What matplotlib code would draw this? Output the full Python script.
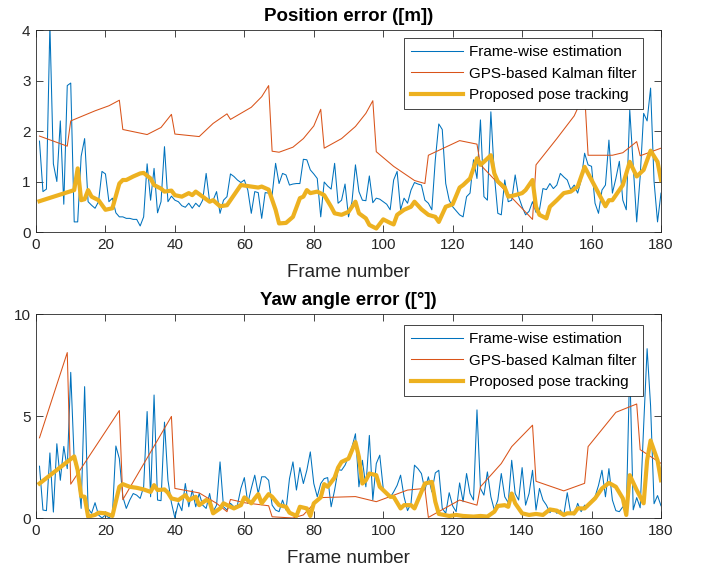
import numpy as np
import matplotlib
matplotlib.use('Agg')
import matplotlib.pyplot as plt

plt.rcParams['font.family'] = ['Liberation Sans', 'DejaVu Sans']

# ---- Position error ([m]) ----
pos_frame = [1.8, 0.8, 0.85, 4.1, 1.35, 1.0, 2.2, 0.55, 2.9, 2.95,
             0.2, 0.2, 1.5, 1.85, 0.6, 0.53, 0.47, 0.6, 1.2, 1.15,
             0.6, 0.67, 0.38, 0.3, 0.3, 0.27, 0.27, 0.25, 0.25, 0.12,
             0.3, 1.35, 0.63, 1.26, 0.38, 0.6, 1.69, 0.6, 0.71, 0.63,
             0.6, 0.52, 0.49, 0.57, 0.47, 0.57, 0.5, 0.63, 1.16, 0.6,
             0.63, 0.8, 0.37, 0.63, 0.7, 1.15, 1.1, 1.03, 0.98, 1.03,
             0.83, 0.37, 0.8, 0.78, 0.27, 0.78, 0.77, 0.73, 1.36, 0.96,
             1.16, 1.13, 0.93, 0.95, 0.96, 0.96, 1.44, 1.43, 1.23, 1.15,
             1.06, 0.3, 0.99, 0.91, 0.85, 1.36, 0.57, 0.63, 0.95, 0.3,
             0.6, 1.33, 0.8, 0.63, 0.62, 1.11, 0.58, 0.67, 0.65, 0.6,
             0.55, 0.44, 1.03, 1.2, 0.44, 0.67, 0.57, 0.83, 0.98, 0.95,
             0.93, 0.63, 0.57, 0.44, 1.43, 2.14, 2.03, 0.96, 0.63, 0.5,
             0.42, 0.34, 0.3, 0.7, 0.77, 1.43, 1.06, 2.22, 0.7, 0.63,
             2.38, 1.13, 0.37, 0.34, 1.03, 0.6, 0.63, 1.13, 0.7, 0.5,
             0.34, 0.41, 0.6, 0.39, 0.44, 0.86, 0.84, 0.96, 0.86, 0.93,
             1.16, 1.09, 1.03, 0.84, 0.93, 0.77, 1.03, 1.56, 1.33, 1.3,
             0.57, 0.37, 0.83, 0.93, 1.82, 0.77, 1.06, 1.4, 0.63, 0.44,
             2.42, 1.3, 0.2, 1.1, 2.35, 2.2, 2.85, 1.0, 0.2, 0.77]

pos_gps_x = [1, 9, 10, 17, 21, 24, 25, 32, 36, 39, 40, 47, 51, 55, 56, 62, 65, 67,
             68, 70, 74, 77, 80, 82, 83, 88, 92, 95, 97, 98, 103, 109, 112, 113,
             122, 127, 128, 143, 144, 150, 155, 158, 159, 166, 169, 173, 174, 180]
pos_gps_y = [1.9, 1.7, 2.2, 2.4, 2.5, 2.61, 2.03, 1.93, 2.07, 2.33, 1.94, 1.89, 2.15,
             2.34, 2.23, 2.47, 2.68, 2.9, 1.6, 1.58, 1.68, 1.85, 2.1, 2.43, 1.66,
             1.85, 2.09, 2.35, 2.6, 1.59, 1.3, 1.02, 0.96, 1.52, 1.81, 1.74, 1.33,
             0.25, 1.33, 1.85, 2.3, 2.75, 1.52, 1.52, 1.57, 1.79, 1.51, 1.66]

pos_prop_x = [1, 11, 12, 13, 14, 15, 16, 18, 20, 22, 24, 25, 26, 28, 30, 31, 33, 34,
              36, 37, 39, 40, 42, 44, 45, 46, 48, 50, 51, 53, 55, 57, 59, 61, 64, 65,
              67, 69, 70, 72, 74, 76, 77, 78, 79, 81, 83, 85, 86, 88, 90, 92, 93, 95,
              96, 98, 100, 102, 103, 104, 106, 108, 109, 111, 113, 115, 116, 118, 120,
              122, 123, 125, 126, 127, 128, 129, 131, 132, 133, 135, 136, 138, 140,
              141, 143, 144, 145, 147, 148, 150, 152, 154, 156, 158, 161, 164, 165,
              166, 169, 171, 173, 175, 177, 179, 180]
pos_prop_y = [0.61, 0.83, 1.26, 0.63, 0.65, 0.83, 0.7, 0.63, 0.44, 0.47, 0.96, 1.03,
              1.03, 1.1, 1.16, 1.17, 1.06, 0.93, 0.86, 0.8, 0.82, 0.73, 0.7, 0.77,
              0.73, 0.8, 0.7, 0.6, 0.63, 0.51, 0.53, 0.73, 0.93, 0.91, 0.88, 0.9,
              0.84, 0.44, 0.17, 0.18, 0.3, 0.67, 0.7, 0.83, 0.77, 0.8, 0.73, 0.5,
              0.37, 0.34, 0.4, 0.6, 0.37, 0.27, 0.14, 0.07, 0.25, 0.18, 0.15, 0.34,
              0.44, 0.5, 0.6, 0.45, 0.34, 0.3, 0.2, 0.5, 0.55, 0.88, 0.93, 1.06,
              1.26, 1.46, 1.33, 1.39, 1.52, 1.16, 1.0, 0.88, 0.7, 0.73, 0.77, 0.83,
              1.03, 0.5, 0.34, 0.27, 0.5, 0.63, 0.77, 0.8, 0.9, 1.29, 0.9, 0.51,
              0.63, 0.63, 0.93, 1.39, 1.1, 1.23, 1.61, 1.39, 1.03]

# ---- Yaw angle error ([deg]) ----
yaw_frame = [2.54, 0.39, 0.36, 3.19, 0.29, 3.64, 1.85, 3.51, 2.42, 7.14,
             2.83, 2.18, 0.47, 6.44, 0.47, 0.23, 0.75, 0.15, 0.0, 0.15,
             0.0, 0.15, 3.53, 2.91, 1.04, 0.47, 0.88, 1.2, 1.12, 0.96,
             1.53, 5.22, 1.04, 6.03, 0.88, 0.85, 4.7, 1.85, 0.75, 0.0,
             0.75, 0.36, 1.69, 0.55, 1.37, 0.55, 1.2, 0.63, 0.47, 1.2,
             0.31, 0.63, 2.75, 0.55, 0.39, 0.72, 0.55, 0.63, 1.45, 1.98,
             0.72, 1.45, 2.1, 1.2, 2.02, 2.02, 1.85, 0.63, 0.39, 0.31,
             0.88, 0.39, 1.93, 2.75, 1.37, 2.47, 1.69, 2.34, 3.24, 1.69,
             1.04, 1.69, 1.93, 1.98, 0.55, 1.37, 2.37, 2.34, 2.59, 3.0,
             3.48, 4.13, 1.53, 2.83, 1.53, 4.05, 0.88, 2.67, 3.08, 1.45,
             1.2, 1.0, 1.28, 1.6, 2.1, 1.04, 0.36, 0.72, 2.59, 2.42,
             2.18, 1.37, 2.02, 1.28, 2.21, 2.34, 0.47, 0.23, 1.24, 0.59,
             0.31, 1.72, 0.8, 2.18, 1.2, 0.88, 5.3, 1.45, 1.12, 2.26,
             1.04, 0.39, 0.88, 2.18, 1.04, 0.75, 2.83, 1.2, 0.88, 2.47,
             0.63, 1.2, 2.34, 0.39, 1.45, 0.88, 0.63, 0.26, 0.47, 0.23,
             0.39, 0.15, 1.24, 0.23, 0.15, 0.72, 0.31, 0.63, 0.55, 0.88,
             1.04, 1.6, 2.34, 1.04, 2.42, 0.88, 0.36, 0.31, 0.55, 0.23,
             7.5, 0.4, 1.0, 0.5, 4.5, 8.3, 5.5, 0.7, 1.1, 0.6]

yaw_gps_x = [1, 9, 10, 24, 25, 39, 40, 47, 52, 55, 56, 60, 67, 68, 74, 77, 80, 82,
             92, 98, 107, 112, 113, 122, 127, 128, 134, 137, 143, 144, 152, 158,
             159, 167, 173, 174, 180]
yaw_gps_y = [3.93, 8.11, 1.66, 5.27, 0.9, 4.98, 1.45, 1.23, 0.72, 0.31, 0.91, 0.75,
             0.6, 0.06, 0.0, 0.15, 0.7, 1.0, 1.05, 0.8, 1.37, 1.45, 0.03, 0.88,
             0.63, 1.53, 2.67, 3.5, 4.55, 1.8, 1.33, 1.7, 3.5, 5.18, 5.59, 3.35,
             2.68]

yaw_prop_x = [1, 11, 12, 13, 14, 15, 17, 18, 20, 22, 24, 25, 27, 29, 31, 33, 34, 35,
              37, 38, 39, 41, 43, 44, 46, 47, 49, 50, 51, 53, 54, 56, 57, 59, 60, 62,
              63, 64, 65, 67, 68, 70, 72, 73, 75, 76, 78, 79, 80, 82, 83, 84, 86, 87,
              88, 90, 92, 93, 94, 95, 96, 98, 99, 102, 103, 105, 106, 108, 109, 112,
              114, 115, 116, 119, 121, 123, 126, 128, 130, 132, 133, 135, 136, 137,
              138, 140, 142, 144, 146, 148, 150, 152, 153, 155, 156, 158, 161, 163,
              165, 167, 169, 170, 171, 173, 175, 176, 177, 179, 180]
yaw_prop_y = [1.69, 3.02, 2.34, 1.07, 1.04, 0.07, 0.15, 0.26, 0.23, 0.1, 1.53, 1.66,
              1.53, 1.48, 1.4, 1.28, 1.61, 1.37, 1.4, 1.24, 0.96, 0.88, 1.12, 0.88,
              1.04, 0.63, 0.88, 0.8, 0.23, 0.47, 0.72, 0.55, 0.47, 0.63, 1.01, 0.72,
              0.96, 1.17, 0.72, 1.17, 1.04, 0.63, 0.55, 0.26, 0.1, 0.55, 0.47, 0.1,
              0.72, 1.01, 1.66, 1.53, 1.98, 2.47, 2.75, 2.91, 3.72, 2.99, 1.69, 1.85,
              2.18, 2.1, 1.53, 1.04, 1.04, 0.47, 0.63, 0.63, 0.47, 1.69, 1.77, 0.8,
              0.2, 0.1, 0.15, 0.1, 0.07, 0.1, 0.07, 0.31, 0.59, 0.63, 0.55, 1.2,
              0.72, 0.23, 0.15, 0.2, 0.15, 0.42, 0.36, 0.15, 0.23, 0.23, 0.47, 0.47,
              0.96, 1.45, 1.72, 1.53, 0.96, 0.15, 2.1, 1.37, 0.72, 2.83, 3.8, 2.83,
              1.85]

labels = ['Frame-wise estimation', 'GPS-based Kalman filter', 'Proposed pose tracking']
c_blue, c_red, c_yel = '#0072BD', '#D95319', '#EDB120'
axc = '#262626'


def draw(ax, frame, gx, gy, px, py, title, ylim, yticks, leg_top):
    ax.plot(np.arange(1, len(frame) + 1), frame, color=c_blue, lw=0.75, label=labels[0])
    ax.plot(gx, gy, color=c_red, lw=0.75, label=labels[1])
    ax.plot(px, py, color=c_yel, lw=3, label=labels[2])
    ax.set_xlim(0, 180)
    ax.set_ylim(*ylim)
    ax.set_xticks(np.arange(0, 181, 20))
    ax.set_yticks(yticks)
    ax.set_title(title, fontsize=13.5, fontweight='bold', pad=6.5)
    ax.set_xlabel('Frame number', fontsize=13.5, labelpad=9, color=axc)
    ax.tick_params(direction='in', top=True, right=True, labelsize=11,
                   length=5, width=0.6, colors=axc, pad=4)
    for s in ax.spines.values():
        s.set_color(axc)
        s.set_linewidth(0.6)
    leg = ax.legend(loc='upper right', bbox_to_anchor=(0.971, leg_top), borderaxespad=0,
                    fontsize=11, handlelength=3.4, handletextpad=0.35, labelspacing=0.5,
                    borderpad=0.45, fancybox=False, framealpha=1, edgecolor=axc)
    leg.get_frame().set_linewidth(0.6)


fig = plt.figure(figsize=(7.02, 5.72), dpi=100)
ax1 = fig.add_axes([0.0513, 0.5944, 0.8903, 0.3531])
ax2 = fig.add_axes([0.0513, 0.0944, 0.8903, 0.3566])

draw(ax1, pos_frame, pos_gps_x, pos_gps_y, pos_prop_x, pos_prop_y,
     'Position error ([m])', (0, 4), [0, 1, 2, 3, 4], 0.96)
draw(ax2, yaw_frame, yaw_gps_x, yaw_gps_y, yaw_prop_x, yaw_prop_y,
     'Yaw angle error ([°])', (0, 10), [0, 5, 10], 0.946)

fig.savefig('out.png', dpi=100)
